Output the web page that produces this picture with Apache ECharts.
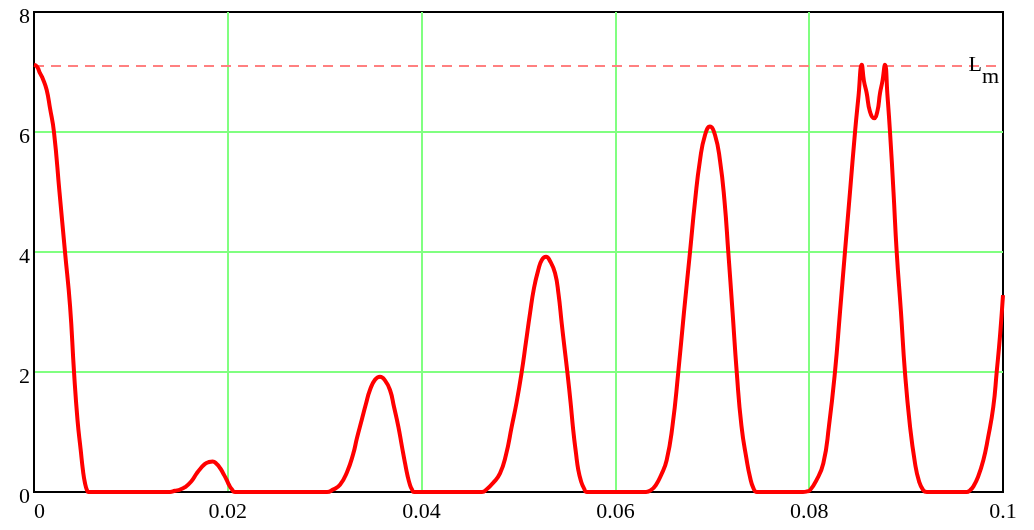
<!DOCTYPE html>
<html>
<head>
<meta charset="utf-8">
<script src="https://cdn.jsdelivr.net/npm/echarts@6/dist/echarts.min.js"></script>
<style>html,body{margin:0;padding:0;background:#fff}#c{width:1034px;height:530px}</style>
</head>
<body>
<div id="c"></div>
<script>
// curve sample points (x, L)
const xs = [0, 0.00031, 0.00062, 0.00093, 0.00131, 0.00165, 0.00206, 0.00263, 0.0032, 0.00372, 0.00413, 0.00449, 0.00482, 0.00506, 0.00526, 0.00547, 0.00562,
  0.01404, 0.01455, 0.01507, 0.01558, 0.0162, 0.01679, 0.01723, 0.01765, 0.01806, 0.01844, 0.01883, 0.0192, 0.01956, 0.01989, 0.02012, 0.0204, 0.02074,
  0.03024, 0.03086, 0.03158, 0.0323, 0.03295, 0.03333, 0.03382, 0.03426, 0.03467, 0.03519, 0.03571, 0.03622, 0.03674, 0.03715, 0.0376, 0.03798, 0.03829, 0.03854, 0.0388, 0.03901, 0.03922,
  0.04623, 0.04675, 0.04737, 0.04809, 0.04871, 0.0493, 0.04981, 0.05033, 0.05077, 0.05119, 0.0516, 0.05204, 0.05242, 0.05284, 0.05325, 0.05377, 0.05413, 0.05446, 0.05475, 0.05504, 0.05537, 0.05565, 0.05593, 0.05617, 0.05645, 0.05676, 0.05707,
  0.06316, 0.06367, 0.06419, 0.06471, 0.06529, 0.06589, 0.06649, 0.06708, 0.0677, 0.06822, 0.06873, 0.06925, 0.06976, 0.07028, 0.07079, 0.07126, 0.07165, 0.07209, 0.07252, 0.07301, 0.07355, 0.07389, 0.07423, 0.07461,
  0.07936, 0.07977, 0.08008, 0.0807, 0.08146, 0.08204, 0.08266, 0.08318, 0.08369, 0.08421, 0.08473, 0.08509, 0.08542, 0.08565, 0.08593, 0.08627, 0.08669, 0.08703, 0.08731, 0.08756, 0.08782, 0.08808, 0.08834, 0.0887, 0.08903, 0.08947, 0.08988, 0.0904, 0.09092, 0.09133, 0.09177, 0.09215,
  0.09626, 0.0966, 0.09693, 0.09742, 0.09797, 0.09845, 0.099, 0.09935, 0.09969, 0.1];
const ys = [7.12, 7.09, 6.98, 6.88, 6.7, 6.4, 6.0, 5.0, 4.0, 3.1, 2.0, 1.2, 0.7, 0.35, 0.15, 0.03, 0,
  0, 0.02, 0.04, 0.08, 0.17, 0.31, 0.4, 0.47, 0.5, 0.51, 0.47, 0.4, 0.3, 0.2, 0.12, 0.05, 0,
  0, 0.04, 0.12, 0.33, 0.64, 0.9, 1.2, 1.47, 1.7, 1.87, 1.92, 1.86, 1.7, 1.42, 1.09, 0.75, 0.48, 0.28, 0.12, 0.04, 0,
  0, 0.05, 0.15, 0.31, 0.62, 1.09, 1.5, 2.0, 2.5, 2.98, 3.4, 3.7, 3.87, 3.92, 3.85, 3.65, 3.3, 2.81, 2.4, 2.0, 1.5, 1.03, 0.65, 0.37, 0.18, 0.06, 0,
  0, 0.03, 0.12, 0.28, 0.53, 1.1, 2.0, 3.0, 4.0, 4.85, 5.53, 5.95, 6.09, 5.95, 5.53, 4.85, 4.0, 3.0, 2.0, 1.1, 0.53, 0.25, 0.07, 0,
  0, 0.01, 0.03, 0.18, 0.48, 1.1, 2.0, 3.0, 4.0, 5.0, 6.0, 6.6, 7.12, 6.85, 6.65, 6.34, 6.23, 6.34, 6.65, 6.85, 7.12, 6.6, 6.0, 5.0, 4.0, 3.0, 2.0, 1.1, 0.48, 0.18, 0.03, 0,
  0, 0.03, 0.09, 0.25, 0.53, 0.9, 1.42, 2.0, 2.6, 3.28];
const Lm = 7.1;
const xTicks = [0, 0.02, 0.04, 0.06, 0.08, 0.1];
const yTicks = [0, 2, 4, 6, 8];

const chart = echarts.init(document.getElementById('c'));
const font = '"Liberation Serif", "DejaVu Serif", serif';
chart.setOption({
  animation: false,
  grid: { left: 34, right: 31, top: 12, bottom: 38, show: true, borderColor: '#000', borderWidth: 2, backgroundColor: 'transparent' },
  xAxis: {
    type: 'value', min: 0, max: 0.1, interval: 0.02,
    axisLine: { show: true, lineStyle: { color: '#000', width: 2 } },
    axisTick: { show: false },
    splitLine: { show: true, showMinLine: false, showMaxLine: false, lineStyle: { color: '#80ff80', width: 2 } },
    axisLabel: { fontFamily: font, fontSize: 22, color: '#000', margin: 9, alignMinLabel: 'left',
      formatter: v => { const s = xTicks.find(t => Math.abs(t - v) < 1e-9); return s === undefined ? '' : String(s); } }
  },
  yAxis: {
    type: 'value', min: 0, max: 8, interval: 2,
    axisLine: { show: true, lineStyle: { color: '#000', width: 2 } },
    axisTick: { show: false },
    splitLine: { show: true, showMinLine: false, showMaxLine: false, lineStyle: { color: '#80ff80', width: 2 } },
    axisLabel: { fontFamily: font, fontSize: 22, color: '#000', margin: 4, verticalAlign: 'top', lineHeight: 10,
      formatter: v => yTicks.includes(v) ? String(v) : '' }
  },
  series: [{
    type: 'line',
    data: xs.map((x, i) => [x, ys[i]]),
    showSymbol: false,
    smooth: 0.5,
    lineStyle: { color: '#ff0000', width: 4 },
    z: 5,
    markLine: {
      silent: true, symbol: 'none',
      lineStyle: { color: '#ff8080', type: [10, 7], width: 2 },
      data: [{ yAxis: Lm }],
      label: {
        show: true, position: 'insideEnd', distance: 4, padding: [10, 0, 0, 0],
        formatter: '{a|L}{b|m}',
        rich: {
          a: { fontFamily: font, fontSize: 22, color: '#000', lineHeight: 22, verticalAlign: 'top' },
          b: { fontFamily: font, fontSize: 22, color: '#000', lineHeight: 34, verticalAlign: 'bottom' }
        }
      }
    }
  }]
});
</script>
</body>
</html>
